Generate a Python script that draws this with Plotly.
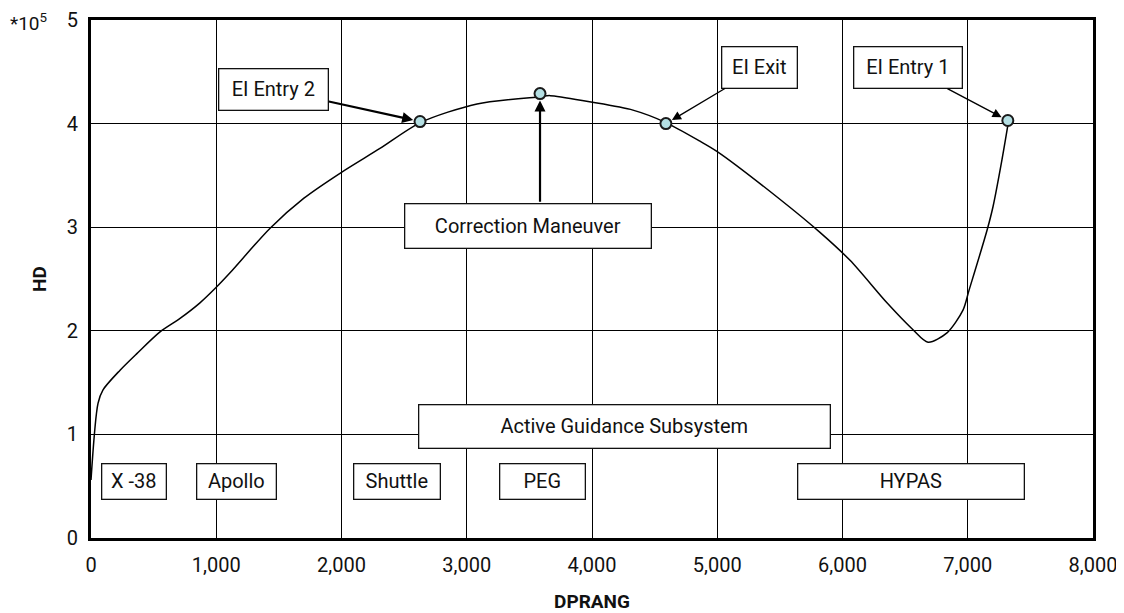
import plotly.graph_objects as go

FONT = "Roboto, Liberation Sans, Arial"

# curve
dprang = [0, 56, 96, 232, 366, 551, 711, 870, 1000, 1110, 1430, 1700, 2000, 2307, 2630,
          3082, 3585, 3665, 3980, 4327, 4590, 4862, 5000, 5500, 5820, 6060, 6355,
          6563, 6683, 6834, 6962, 7010, 7154, 7202, 7273, 7321]
hd = [0.56, 1.30, 1.43, 1.62, 1.78, 1.99, 2.12, 2.27, 2.42, 2.56, 2.99, 3.28, 3.53, 3.76, 4.01,
      4.19, 4.26, 4.27, 4.21, 4.13, 4.01, 3.83, 3.73, 3.27, 2.95, 2.68, 2.27,
      2.01, 1.89, 1.98, 2.20, 2.39, 2.97, 3.20, 3.65, 3.99]

# event points
event_names = ["EI Entry 2", "Correction Maneuver", "EI Exit", "EI Entry 1"]
event_x = [2627, 3585, 4590, 7320]
event_y = [4.02, 4.29, 4.00, 4.03]

# boxes with an arrow to an event point
arrow_text = ["EI Entry 2", "EI Exit", "EI Entry 1"]
arrow_pt_x = [2627, 4590, 7320]
arrow_pt_y = [4.02, 4.00, 4.03]
arrow_box_x = [1461, 5341, 6523]
arrow_box_y = [4.33, 4.54, 4.54]
arrow_box_w = [110, 76, 109]
arrow_box_h = [42, 42, 42]
arrow_w = [2.2, 1.4, 1.4]

# plain label boxes
box_text = ["Correction Maneuver", "Active Guidance Subsystem", "X -38", "Apollo",
            "Shuttle", "PEG", "HYPAS"]
box_x = [3489, 4263, 343, 1158, 2443, 3601, 6547]
box_y = [3.01, 1.08, 0.55, 0.55, 0.55, 0.55, 0.55]
box_w = [247, 412, 65, 80, 87, 86, 227]
box_h = [45, 44, 36, 36, 36, 36, 36]

fig = go.Figure()

fig.add_trace(go.Scatter(
    x=dprang, y=hd, mode="lines",
    line=dict(color="black", width=1.5, shape="spline", smoothing=0.8),
    showlegend=False, hoverinfo="skip"
))

fig.add_trace(go.Scatter(
    x=event_x, y=event_y, mode="markers",
    marker=dict(color="#b4dfe3", size=11, line=dict(color="#1a1a1a", width=2)),
    text=event_names, showlegend=False
))

box_style = dict(borderpad=1, bgcolor="white", bordercolor="#111", borderwidth=1.3,
                 font=dict(family=FONT, size=20, color="#111"))

annotations = []
for t, x, y, w, h in zip(box_text, box_x, box_y, box_w, box_h):
    annotations.append(dict(
        x=x, y=y, xref="x", yref="y", text=t, showarrow=False,
        width=w - 4, height=h - 4, **box_style,
    ))

for t, ex, ey, bx, by, w, h, lw in zip(arrow_text, arrow_pt_x, arrow_pt_y, arrow_box_x,
                                        arrow_box_y, arrow_box_w, arrow_box_h, arrow_w):
    annotations.append(dict(
        x=ex, y=ey, xref="x", yref="y", ax=bx, ay=by, axref="x", ayref="y",
        text=t, showarrow=True, arrowhead=2, arrowsize=1.3 if lw < 2 else 1.0,
        arrowwidth=lw, arrowcolor="black", standoff=7,
        width=w - 4, height=h - 4, **box_style,
    ))

# vertical arrow from the correction box up to its point
annotations.append(dict(
    x=event_x[1], y=event_y[1], xref="x", yref="y",
    ax=event_x[1], ay=box_y[0] + 0.22, axref="x", ayref="y",
    text="", showarrow=True, arrowhead=2, arrowsize=1.0,
    arrowwidth=2.2, arrowcolor="black", standoff=7,
))

annotations.append(dict(
    x=-0.062, y=0.995, xref="paper", yref="paper", xanchor="center", yanchor="middle",
    text="*10<sup>5</sup>", showarrow=False,
    font=dict(family=FONT, size=19, color="#111"),
))

# page body adds an 8px offset, so the figure is sized to fit the window
fig.update_layout(
    width=1116, height=605,
    margin=dict(l=83, r=31, t=12, b=75, autoexpand=False),
    plot_bgcolor="white", paper_bgcolor="white",
    font=dict(family=FONT, size=20, color="#111"),
    annotations=annotations,
    xaxis=dict(
        range=[0, 8000], tickmode="array",
        tickvals=[0, 1000, 2000, 3000, 4000, 5000, 6000, 7000, 8000],
        ticktext=["0", "1,000", "2,000", "3,000", "4,000", "5,000", "6,000", "7,000", "8,000"],
        showgrid=True, gridcolor="black", gridwidth=1, zeroline=False,
        showline=True, linecolor="black", linewidth=3, mirror=True,
        ticks="", ticklabelstandoff=7, automargin=False,
        title=dict(text="<b>DPRANG</b>", font=dict(size=19), standoff=21),
    ),
    yaxis=dict(
        range=[0, 5], tickmode="array", tickvals=[0, 1, 2, 3, 4, 5],
        showgrid=True, gridcolor="black", gridwidth=1, zeroline=False,
        showline=True, linecolor="black", linewidth=3, mirror=True,
        ticks="", ticklabelstandoff=6, automargin=False,
        title=dict(text="<b>HD</b>", font=dict(size=19), standoff=16),
    ),
)

fig.write_html("out.html")
